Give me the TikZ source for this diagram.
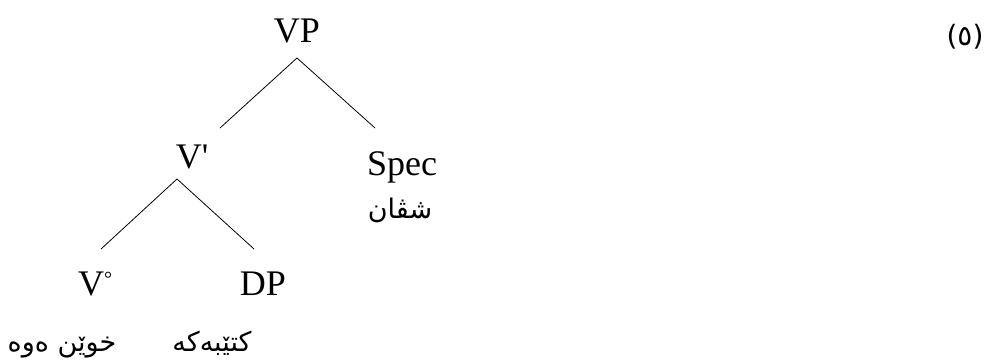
\documentclass[tikz,border=0pt]{standalone}
\usepackage{fontspec}
\setmainfont{Liberation Serif}
\newfontfamily\arabicfont[Script=Arabic]{DejaVu Sans}
\TeXXeTstate=1

\begin{document}
\begin{tikzpicture}[x=1pt,y=-1pt,
		lab/.style={font=\fontsize{36}{40}\selectfont, anchor=base, inner sep=0pt},
		kur/.style={font=\arabicfont\fontsize{27}{32}\selectfont, anchor=base, inner sep=0pt},
		branch/.style={line width=0.8pt}]
	\useasboundingbox (0,0) rectangle (989,362);

	% labels of the tree
	\node[lab] (vp) at (297,42) {VP};
	\node[lab] (vbar) at (192,168) {V\textquotesingle};
	\node[lab] (spec) at (402,175) {Spec};
	\node[kur] (shvan) at (400,218) {\beginR شڤان\endR};
	\node[lab] (v0) at (95,295) {V\raisebox{10pt}{\fontsize{20}{24}\selectfont\textdegree}};
	\node[lab] (dp) at (263,295) {DP};
	\node[kur] (xwendnewe) at (62,351) {\beginR خوێن ەوە\endR};
	\node[kur] (ktebeke) at (212,351) {\beginR کتێبەکە\endR};
	\node[kur, font=\arabicfont\fontsize{28}{32}\selectfont] (num) at (965,45) {(٥)};

	% branches
	\coordinate (vp-top) at (297,58);
	\coordinate (vp-l) at (220,128);
	\coordinate (vp-r) at (375,128);
	\coordinate (vbar-top) at (177,179);
	\coordinate (vbar-l) at (101,249);
	\coordinate (vbar-r) at (254,249);
	\foreach \a\b in {vp-top/vp-l,vp-top/vp-r,vbar-top/vbar-l,vbar-top/vbar-r}{
		\draw[branch] (\a) -- (\b);
	}

\end{tikzpicture}
\end{document}
